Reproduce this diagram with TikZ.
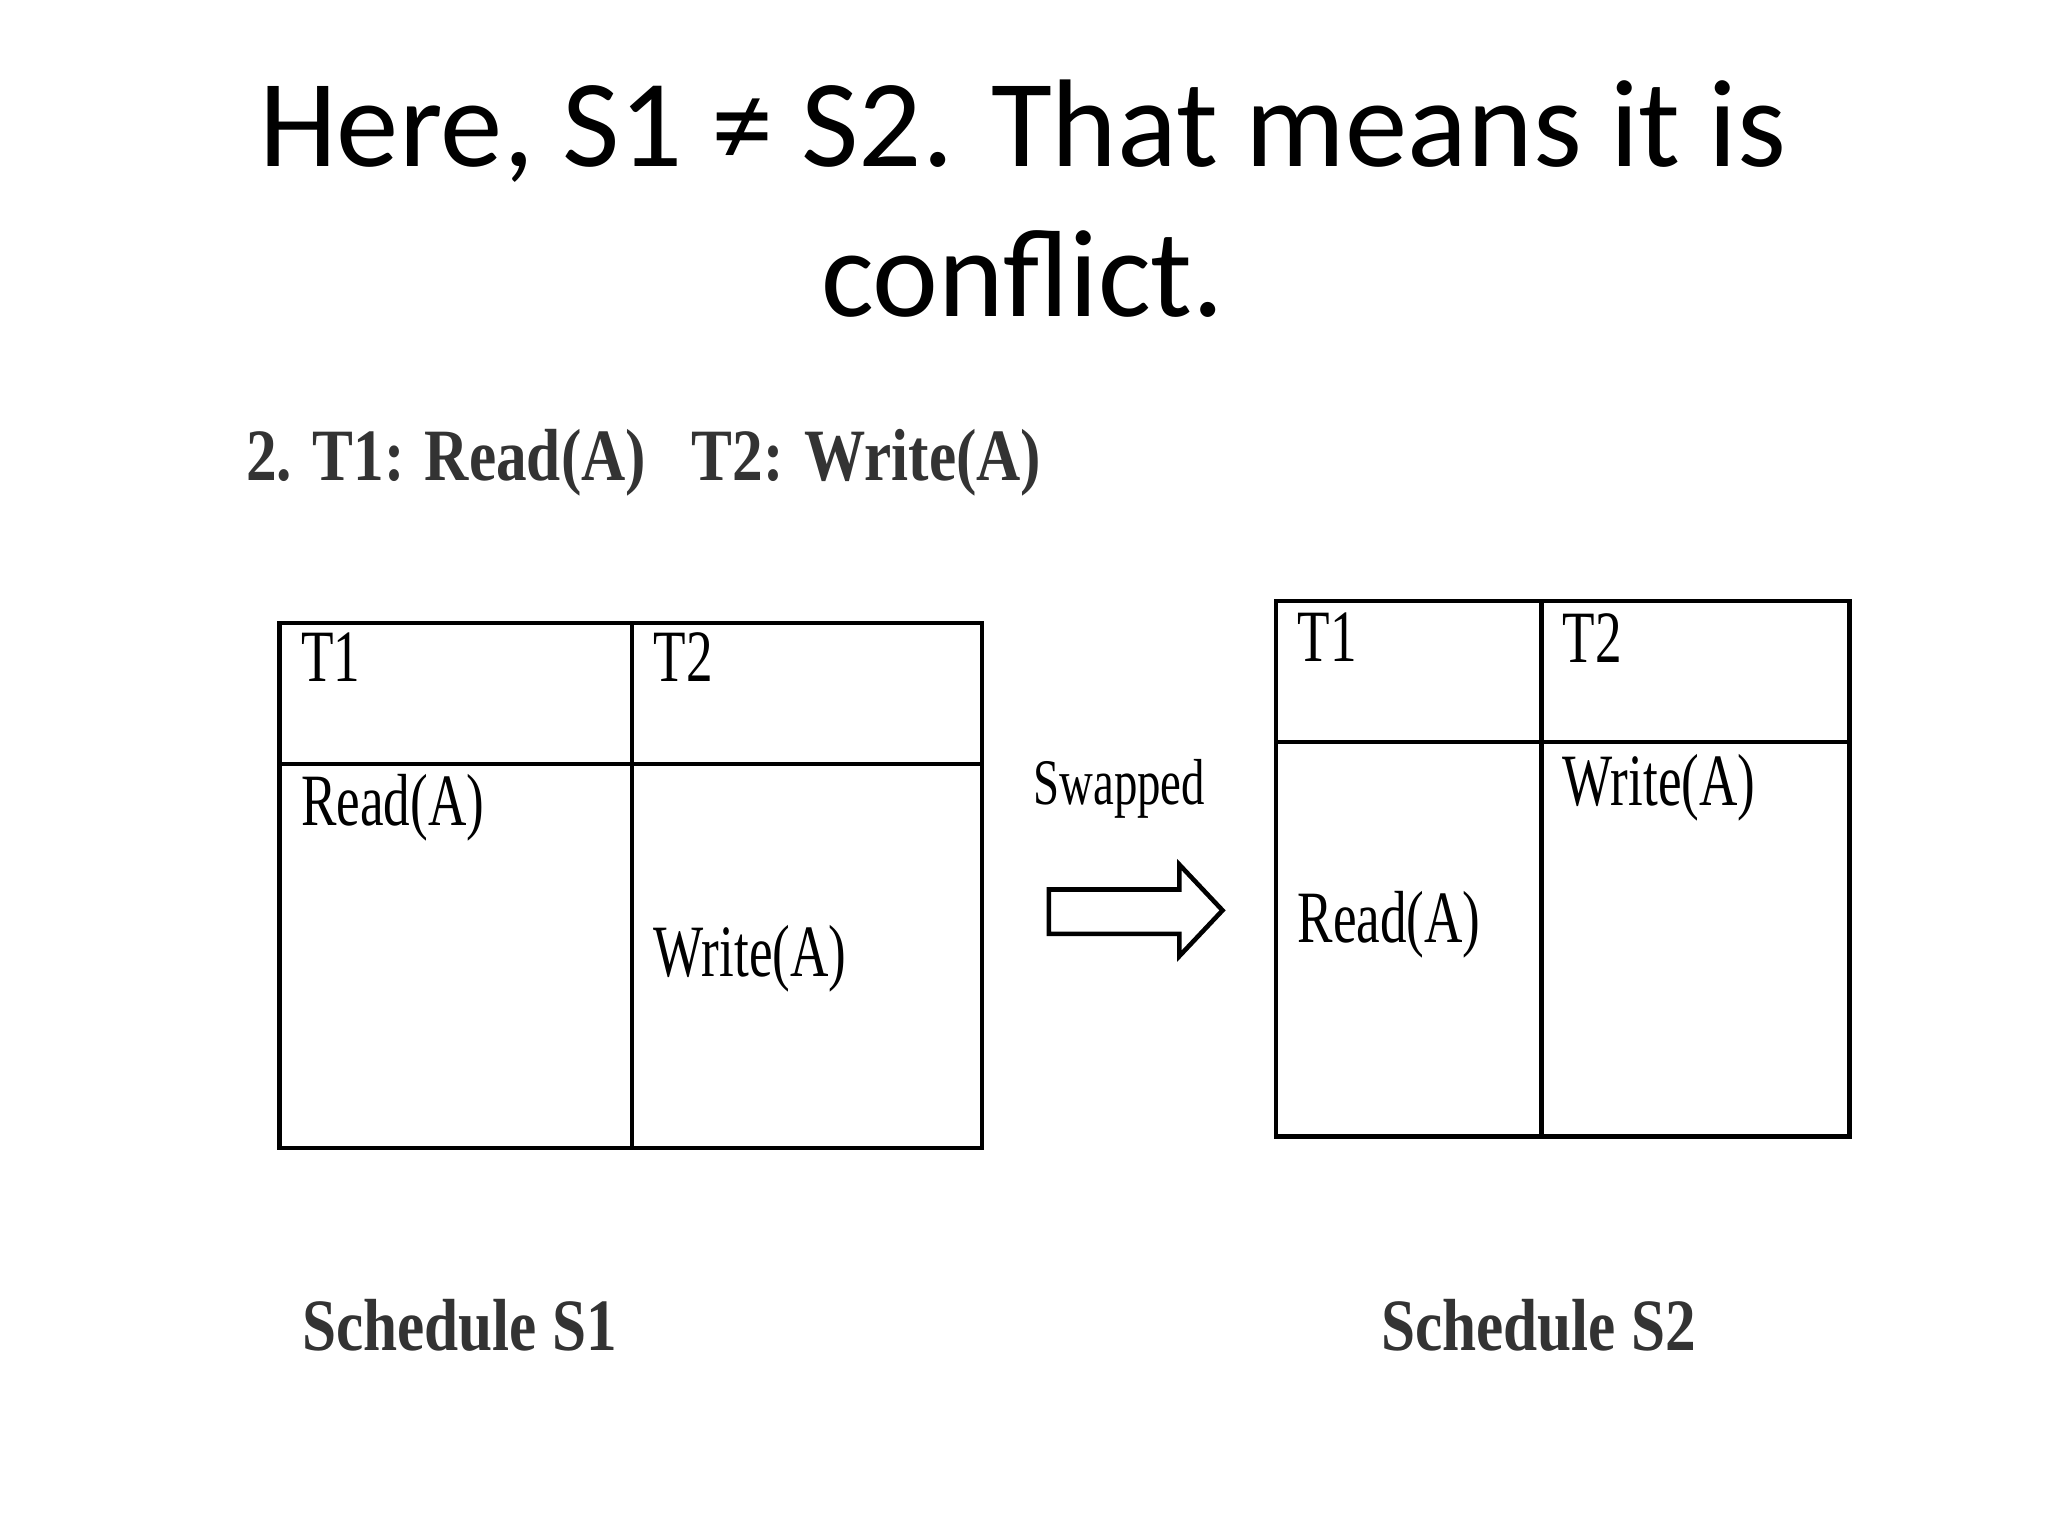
\documentclass[tikz,border=0pt]{standalone}
\usepackage{fontspec}
\setmainfont{Carlito}
\newfontfamily\cond[FakeStretch=0.72]{Liberation Serif}
\newfontfamily\condb[FakeStretch=0.83]{Liberation Serif Bold}
\begin{document}
\begin{tikzpicture}[x=0.01306cm,y=-0.01306cm,
  cell/.style={anchor=north west,inner sep=0pt,font=\cond\fontsize{21}{24}\selectfont},
  bhead/.style={inner sep=0pt,font=\condb\fontsize{21}{24}\selectfont,text=black!80},
  tline/.style={line width=1.3pt}]
\useasboundingbox (0,0) rectangle (1568,1176);
\node[font=\fontsize{35.5}{42.7}\selectfont,align=center] (title) at (783,152) {Here, S1 ≠ S2. That means it is\\conflict.};
\node[bhead,anchor=west] (hdr) at (188,354) {2. T1: Read(A) \ \ T2: Write(A)};
% table 1
\draw[tline] (214,477) rectangle (752,879);
\draw[tline] (484,477) -- (484,879);
\draw[tline] (214,585) -- (752,585);
\node[cell] (a1) at (230,484) {T1};
\node[cell] (a2) at (500,484) {T2};
\node[cell] (a3) at (230,592) {Read(A)};
\node[cell] (a4) at (500,708) {Write(A)};
% table 2
\draw[tline] (977,460) rectangle (1416,870);
\draw[tline] (1180,460) -- (1180,870);
\draw[tline] (977,568) -- (1416,568);
\node[cell] (b1) at (993,469) {T1};
\node[cell] (b2) at (1196,469) {T2};
\node[cell] (b3) at (993,682) {Read(A)};
\node[cell] (b4) at (1196,577) {Write(A)};
% arrow
\node[inner sep=0pt,font=\cond\fontsize{18.5}{20}\selectfont] (sw) at (857,604) {Swapped};
\draw[line width=1.3pt,fill=white] (803,681) -- (903,681) -- (903,662) -- (936,697) -- (903,732) -- (903,715) -- (803,715) -- cycle;
\node[bhead] (s1) at (352,1015) {Schedule S1};
\node[bhead] (s2) at (1178,1015) {Schedule S2};
\end{tikzpicture}
\end{document}
